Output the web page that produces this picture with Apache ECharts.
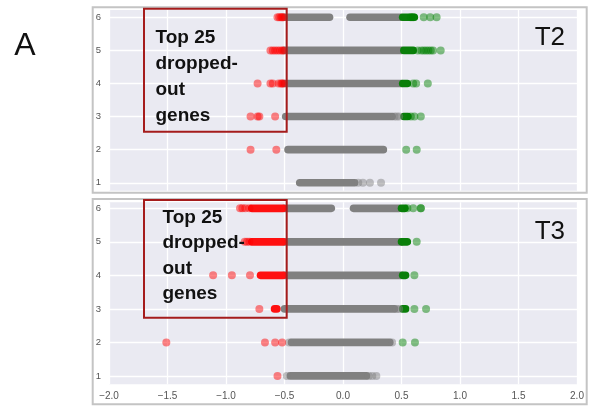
<!DOCTYPE html>
<html><head><meta charset="utf-8">
<script src="https://cdn.jsdelivr.net/npm/echarts@6/dist/echarts.min.js"></script>
<style>html,body{margin:0;padding:0;background:#fff}#c{width:589px;height:407px}</style>
</head><body><div id="c"></div>
<script>
// ---------- data ----------
const rowTicks = [1, 2, 3, 4, 5, 6];
const xTicks = [-2, -1.5, -1, -0.5, 0, 0.5, 1, 1.5, 2];
const panelNames = ['T2', 'T3'];
const boxLines = ['Top 25', 'dropped-', 'out', 'genes'];
const panelLetter = 'A';

// dense runs: [row, start, end]
const t2GrayRuns = [[6,-0.50,-0.115],[6,0.06,0.49],[5,-0.50,0.50],[4,-0.50,0.50],[3,-0.49,0.42],[2,-0.47,0.345],[1,-0.37,0.10]];
const t2RedRuns = [];
const t2GreenRuns = [[6,0.51,0.61],[5,0.52,0.60],[4,0.51,0.55],[3,0.52,0.555]];
// individual points: [row, x]
const t2GrayPts = [[3,0.44],[3,0.46],[3,0.48],[1,0.13],[1,0.17],[1,0.23],[1,0.325]];
const t2RedPts = [[6,-0.56],[6,-0.545],[6,-0.53],[6,-0.52],[6,-0.51],
  [5,-0.62],[5,-0.60],[5,-0.58],[5,-0.56],[5,-0.54],[5,-0.52],[5,-0.51],
  [4,-0.73],[4,-0.62],[4,-0.60],[4,-0.55],[4,-0.53],[4,-0.52],[4,-0.51],
  [3,-0.79],[3,-0.73],[3,-0.715],[3,-0.58],
  [2,-0.79],[2,-0.57]];
const t2GreenPts = [[6,0.58],[6,0.60],[6,0.69],[6,0.745],[6,0.80],
  [5,0.64],[5,0.67],[5,0.69],[5,0.71],[5,0.73],[5,0.75],[5,0.77],[5,0.835],
  [4,0.60],[4,0.625],[4,0.725],
  [3,0.58],[3,0.61],[3,0.665],
  [2,0.54],[2,0.63]];

const t3GrayRuns = [[6,-0.50,-0.10],[6,0.09,0.48],[5,-0.50,0.50],[4,-0.50,0.50],[3,-0.50,0.44],[2,-0.44,0.40],[1,-0.45,0.20]];
const t3RedRuns = [[6,-0.78,-0.51],[5,-0.78,-0.51],[4,-0.705,-0.51],[3,-0.585,-0.565]];
const t3GreenRuns = [[6,0.50,0.53],[5,0.50,0.55],[4,0.51,0.535],[3,0.51,0.535]];
const t3GrayPts = [[3,0.46],[3,0.48],[2,-0.46],[2,0.42],[1,-0.48],[1,0.22],[1,0.25],[1,0.285]];
const t3RedPts = [[6,-0.88],[6,-0.86],[6,-0.835],[6,-0.80],
  [5,-0.84],[5,-0.82],[5,-0.80],
  [4,-1.11],[4,-0.95],[4,-0.795],
  [3,-0.715],
  [2,-1.51],[2,-0.667],[2,-0.58],[2,-0.52],
  [1,-0.56]];
const t3GreenPts = [[6,0.55],[6,0.60],[6,0.665],[6,0.665],
  [5,0.63],[4,0.61],[3,0.61],[3,0.71],[2,0.51],[2,0.615]];

const panels = [
  {grayRuns:t2GrayRuns, redRuns:t2RedRuns, greenRuns:t2GreenRuns, grayPts:t2GrayPts, redPts:t2RedPts, greenPts:t2GreenPts},
  {grayRuns:t3GrayRuns, redRuns:t3RedRuns, greenRuns:t3GreenRuns, grayPts:t3GrayPts, redPts:t3RedPts, greenPts:t3GreenPts}
];

// ---------- styles / layout ----------
const DOT = 8;
const runColors = {gray:'#808080', red:'#ff1010', green:'#0a7f0a'};
const ptColors = {gray:'rgba(128,128,128,0.6)', red:'rgba(255,0,0,0.6)', green:'rgba(0,128,0,0.6)'};
const grids = [
  {left:109, right:12, top:10, height:180.7},
  {left:109, right:12, top:202.3, height:182}
];
const yRanges = [[0.76, 6.22], [0.75, 6.18]];

function runRenderer(color) {
  return function (params, api) {
    const a = api.coord([api.value(1), api.value(0)]);
    const b = api.coord([api.value(2), api.value(0)]);
    return {type:'line', shape:{x1:a[0], y1:a[1], x2:b[0], y2:b[1]},
      style:{stroke:color, lineWidth:DOT - 0.4, lineCap:'round'}};
  };
}

const fmtX = v => v.toFixed(1).replace('-', '\u2212');

const xAxes = grids.map((g, i) => ({
  type:'value', gridIndex:i, min:xTicks[0], max:xTicks[xTicks.length-1], interval:0.5,
  axisLine:{show:false}, axisTick:{show:false},
  splitLine:{show:true, lineStyle:{color:'#ffffff', width:1.3}},
  axisLabel:{show:i === 1, formatter:fmtX, color:'#555', fontSize:10, fontFamily:'Liberation Sans', margin:7}
}));
const yAxes = grids.map((g, i) => ({
  type:'value', gridIndex:i, min:yRanges[i][0], max:yRanges[i][1],
  axisLine:{show:false}, axisTick:{show:false, customValues:rowTicks},
  splitLine:{show:true, lineStyle:{color:'#ffffff', width:1.3}},
  axisLabel:{customValues:rowTicks, color:'#555', fontSize:9.5, fontFamily:'Liberation Sans', margin:8}
}));

const series = [];
panels.forEach((p, i) => {
  [['gray', p.grayRuns], ['red', p.redRuns], ['green', p.greenRuns]].forEach(([c, runs]) => {
    series.push({type:'custom', xAxisIndex:i, yAxisIndex:i, renderItem:runRenderer(runColors[c]),
      encode:{x:[1,2], y:0}, data:runs, silent:true, z:2});
  });
  [['gray', p.grayPts], ['red', p.redPts], ['green', p.greenPts]].forEach(([c, pts]) => {
    series.push({type:'scatter', xAxisIndex:i, yAxisIndex:i, symbolSize:DOT,
      itemStyle:{color:ptColors[c]}, data:pts.map(d => [d[1], d[0]]), silent:true, z:3});
  });
});

const graphic = [];
// panel frames
graphic.push({type:'rect', shape:{x:92.7, y:7.3, width:494, height:185.4}, style:{fill:'none', stroke:'#c4c4c4', lineWidth:2}, z:1});
graphic.push({type:'rect', shape:{x:92.7, y:199, width:494, height:205.3}, style:{fill:'none', stroke:'#c4c4c4', lineWidth:2}, z:1});
// red boxes
graphic.push({type:'rect', shape:{x:144, y:8.7, width:142.7, height:123}, style:{fill:'none', stroke:'#a51c1c', lineWidth:2}, z:100});
graphic.push({type:'rect', shape:{x:144, y:200, width:142.7, height:117.7}, style:{fill:'none', stroke:'#a51c1c', lineWidth:2}, z:100});
// box text
const boxText = [{x:155.5, y0:37.3, dy:26}, {x:162.5, y0:217.7, dy:25.3}];
boxText.forEach(b => {
  boxLines.forEach((t, k) => {
    graphic.push({type:'text', x:b.x, y:b.y0 + k*b.dy, z:101,
      style:{text:t, fill:'#111', font:'bold 19px "Liberation Sans"', textVerticalAlign:'middle', textAlign:'left'}});
  });
});
// panel names
graphic.push({type:'text', x:565, y:38, z:101, style:{text:panelNames[0], fill:'#111', font:'26px "Liberation Sans"', textAlign:'right', textVerticalAlign:'middle'}});
graphic.push({type:'text', x:565, y:232, z:101, style:{text:panelNames[1], fill:'#111', font:'26px "Liberation Sans"', textAlign:'right', textVerticalAlign:'middle'}});
// letter
graphic.push({type:'text', x:25, y:46, z:101, style:{text:panelLetter, fill:'#111', font:'32px "Liberation Sans"', textAlign:'center', textVerticalAlign:'middle'}});

const chart = echarts.init(document.getElementById('c'), null, {renderer:'canvas'});
chart.setOption({
  animation:false,
  backgroundColor:'#ffffff',
  grid:grids.map(g => Object.assign({show:true, backgroundColor:'#eaeaf2', borderWidth:0}, g)),
  xAxis:xAxes,
  yAxis:yAxes,
  series:series,
  graphic:graphic
});
</script>
</body></html>
